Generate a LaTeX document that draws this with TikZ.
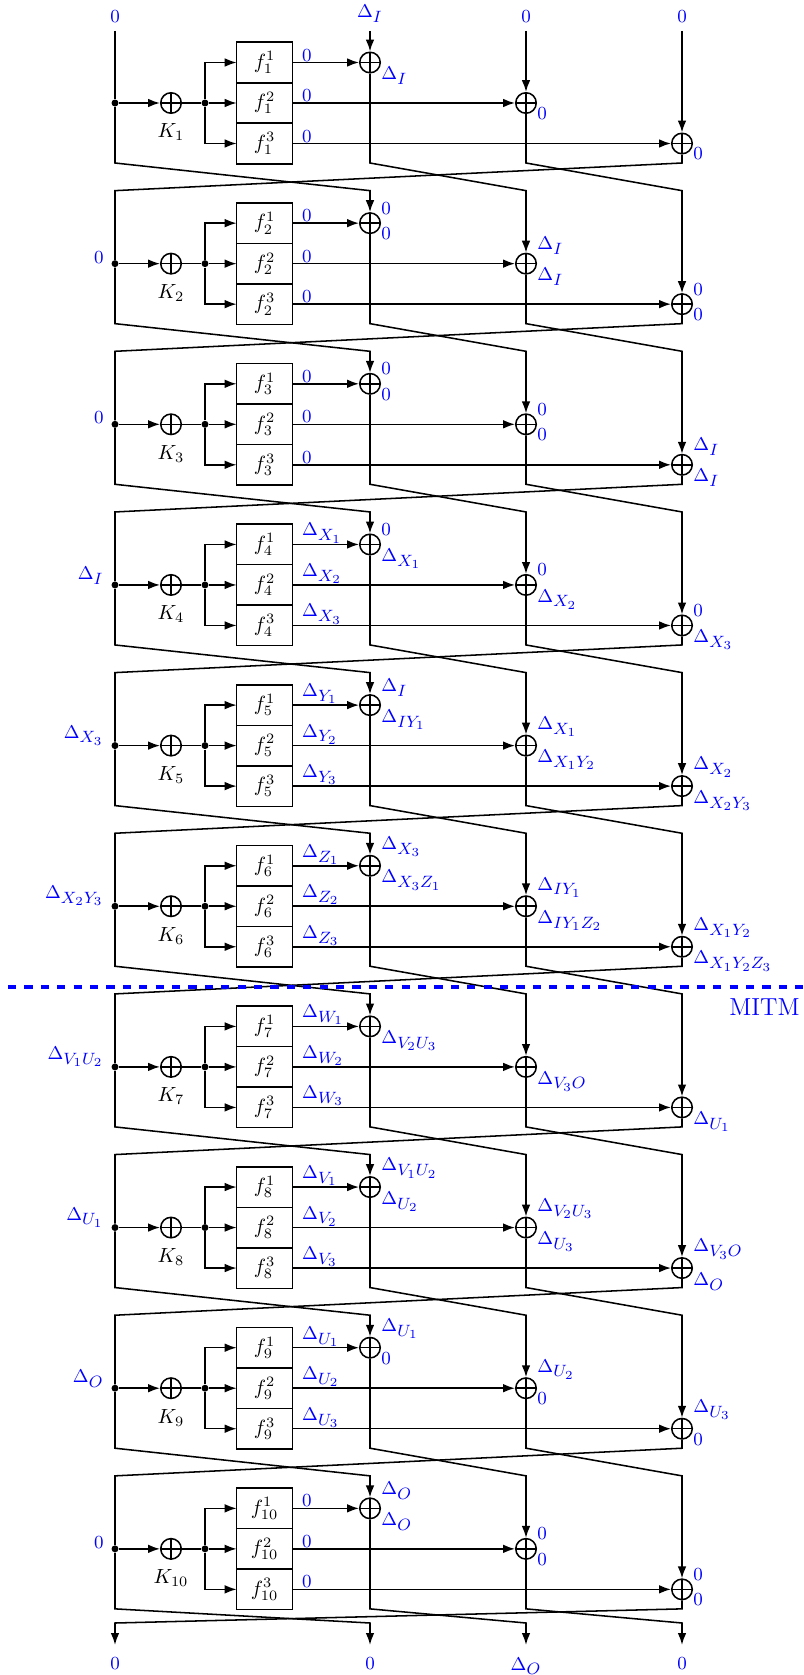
\documentclass[tikz,border=0pt]{standalone}
\usetikzlibrary{arrows.meta,calc}
\DeclareMathSizes{10.5}{9}{8}{6}
\newcommand\labfont{\fontsize{10.5}{12}\selectfont}
\tikzset{
  ln/.style={line width=0.75pt},
  arr/.style={ln,-{Latex[length=5.8pt,width=4.2pt]}},
  xorn/.style={circle,draw,line width=0.75pt,minimum size=10pt,inner sep=0pt,
    path picture={\draw[line width=0.75pt] (path picture bounding box.north) -- (path picture bounding box.south)
      (path picture bounding box.west) -- (path picture bounding box.east);}},
  ftxt/.style={minimum width=26.8pt,minimum height=17pt,inner sep=0pt},
  dotn/.style={circle,fill,inner sep=0pt,minimum size=3.4pt},
  lab/.style={text=blue,font=\labfont,inner sep=0pt},
  alab/.style={lab,anchor=south west,xshift=5.4pt,yshift=4.2pt},
  blab/.style={lab,anchor=north west,xshift=5.4pt,yshift=-2pt},
  llab/.style={lab,anchor=south east,xshift=-5.4pt},
  olab/.style={lab,anchor=south west,xshift=4.6pt,yshift=0.5pt},
  toplab/.style={text=blue,font=\labfont,inner xsep=0pt,inner ysep=3.9pt,anchor=south},
  botlab/.style={text=blue,font=\labfont,inner sep=0pt,anchor=north},
}
\newcommand\xl[3]{\node[alab] at (#1) {$#2$};\node[blab] at (#1) {$#3$};}
\newcommand\fl[4]{\node[olab] at (fa#1.east) {$#2$};\node[olab] at (fb#1.east) {$#3$};\node[olab] at (fc#1.east) {$#4$};}
\begin{document}
\begin{tikzpicture}[x=0.4878pt,y=-0.4878pt]
\useasboundingbox (0,0) rectangle (804,1675);
% rounds
\foreach \r in {1,...,10}{
  \pgfmathsetmacro\R{103+(\r-1)*160.65}
  \node[dotn] (d\r) at (115,\R) {};
  \node[xorn] (k\r) at (171,\R) {};
  \node[dotn] (s\r) at (205,\R) {};
  \node[ftxt] (fa\r) at (264.5,\R-40.5) {$f_{\r}^{1}$};
  \node[ftxt] (fb\r) at (264.5,\R) {$f_{\r}^{2}$};
  \node[ftxt] (fc\r) at (264.5,\R+40.5) {$f_{\r}^{3}$};
  \draw[ln] ($(fa\r.west)+(0,-20.25)$) rectangle ($(fc\r.east)+(0,20.25)$);
  \draw[ln] ($(fa\r.west)+(0,20.25)$) -- ($(fa\r.east)+(0,20.25)$);
  \draw[ln] ($(fc\r.west)+(0,-20.25)$) -- ($(fc\r.east)+(0,-20.25)$);
  \node[xorn] (xa\r) at (370,\R-40.5) {};
  \node[xorn] (xb\r) at (526,\R) {};
  \node[xorn] (xc\r) at (682,\R+40.5) {};
  \node[anchor=base] (kl\r) at ([yshift=-17pt]k\r.center) {$K_{\r}$};
  \draw[arr] (d\r) -- (k\r);
  \draw[ln] (k\r) -- (s\r);
  \draw[arr] (s\r) |- (fa\r.west);
  \draw[arr] (s\r) -- (fb\r.west);
  \draw[arr] (s\r) |- (fc\r.west);
  \draw[arr] (fa\r.east) -- (xa\r);
  \draw[arr] (fb\r.east) -- (xb\r);
  \draw[arr] (fc\r.east) -- (xc\r);
}
% crossings between rounds
\foreach \r [evaluate=\r as \n using int(\r+1)] in {1,...,9}{
  \pgfmathsetmacro\B{103+(\r-1)*160.65+60}
  \pgfmathsetmacro\T{103+\r*160.65-73}
  \draw[arr] (d\r) -- (115,\B) -- (370,\T) -- (xa\n);
  \draw[arr] (xa\r) -- (370,\B) -- (526,\T) -- (xb\n);
  \draw[arr] (xb\r) -- (526,\B) -- (682,\T) -- (xc\n);
  \draw[ln] (xc\r) -- (682,\B) -- (115,\T) -- (d\n);
}
% inputs
\node[toplab] (t1) at (115,31) {$0$};
\node[toplab] (t2) at (370,31) {$\Delta_{I}$};
\node[toplab] (t3) at (526,31) {$0$};
\node[toplab] (t4) at (682,31) {$0$};
\draw[ln] (t1) -- (d1);
\draw[arr] (t2) -- (xa1);
\draw[arr] (t3) -- (xb1);
\draw[arr] (t4) -- (xc1);
% outputs
\pgfmathsetmacro\Bl{103+9*160.65+60}
\node[botlab] (o1) at (115,1657) {$0$};
\node[botlab] (o2) at (370,1657) {$0$};
\node[botlab] (o3) at (526,1657) {$\Delta_{O}$};
\node[botlab] (o4) at (682,1657) {$0$};
\draw[arr,shorten >=5.9pt] (d10) -- (115,\Bl) -- (370,1623) -- (o2.north);
\draw[arr,shorten >=5.9pt] (xa10) -- (370,\Bl) -- (526,1623) -- (o3.north);
\draw[arr,shorten >=5.9pt] (xb10) -- (526,\Bl) -- (682,1623) -- (o4.north);
\draw[arr,shorten >=5.9pt] (xc10) -- (682,\Bl) -- (115,1623) -- (o1.north);
% MITM
\coordinate (m1) at (8,987);
\coordinate (m2) at (804,987);
\draw[blue,line width=1.6pt,dash pattern=on 4pt off 4pt] (m1) -- (m2);
\node[text=blue,anchor=base east,inner sep=0pt,font=\large] (mitm) at (800,1015) {MITM};
% left labels
\node[llab] at (d2) {$0$};
\node[llab] at (d3) {$0$};
\node[llab] at (d4) {$\Delta_{I}$};
\node[llab] at (d5) {$\Delta_{X_3}$};
\node[llab] at (d6) {$\Delta_{X_2Y_3}$};
\node[llab] at (d7) {$\Delta_{V_1U_2}$};
\node[llab] at (d8) {$\Delta_{U_1}$};
\node[llab] at (d9) {$\Delta_{O}$};
\node[llab] at (d10) {$0$};
% f output labels
\fl{1}{0}{0}{0}
\fl{2}{0}{0}{0}
\fl{3}{0}{0}{0}
\fl{4}{\Delta_{X_1}}{\Delta_{X_2}}{\Delta_{X_3}}
\fl{5}{\Delta_{Y_1}}{\Delta_{Y_2}}{\Delta_{Y_3}}
\fl{6}{\Delta_{Z_1}}{\Delta_{Z_2}}{\Delta_{Z_3}}
\fl{7}{\Delta_{W_1}}{\Delta_{W_2}}{\Delta_{W_3}}
\fl{8}{\Delta_{V_1}}{\Delta_{V_2}}{\Delta_{V_3}}
\fl{9}{\Delta_{U_1}}{\Delta_{U_2}}{\Delta_{U_3}}
\fl{10}{0}{0}{0}
% xor labels
\node[blab] at (xa1) {$\Delta_{I}$};
\node[blab] at (xb1) {$0$};
\node[blab] at (xc1) {$0$};
\xl{xa2}{0}{0}\xl{xb2}{\Delta_{I}}{\Delta_{I}}\xl{xc2}{0}{0}
\xl{xa3}{0}{0}\xl{xb3}{0}{0}\xl{xc3}{\Delta_{I}}{\Delta_{I}}
\xl{xa4}{0}{\Delta_{X_1}}\xl{xb4}{0}{\Delta_{X_2}}\xl{xc4}{0}{\Delta_{X_3}}
\xl{xa5}{\Delta_{I}}{\Delta_{IY_1}}\xl{xb5}{\Delta_{X_1}}{\Delta_{X_1Y_2}}\xl{xc5}{\Delta_{X_2}}{\Delta_{X_2Y_3}}
\xl{xa6}{\Delta_{X_3}}{\Delta_{X_3Z_1}}\xl{xb6}{\Delta_{IY_1}}{\Delta_{IY_1Z_2}}\xl{xc6}{\Delta_{X_1Y_2}}{\Delta_{X_1Y_2Z_3}}
\node[blab] at (xa7) {$\Delta_{V_2U_3}$};
\node[blab] at (xb7) {$\Delta_{V_3O}$};
\node[blab] at (xc7) {$\Delta_{U_1}$};
\xl{xa8}{\Delta_{V_1U_2}}{\Delta_{U_2}}\xl{xb8}{\Delta_{V_2U_3}}{\Delta_{U_3}}\xl{xc8}{\Delta_{V_3O}}{\Delta_{O}}
\xl{xa9}{\Delta_{U_1}}{0}\xl{xb9}{\Delta_{U_2}}{0}\xl{xc9}{\Delta_{U_3}}{0}
\xl{xa10}{\Delta_{O}}{\Delta_{O}}\xl{xb10}{0}{0}\xl{xc10}{0}{0}
\end{tikzpicture}
\end{document}
